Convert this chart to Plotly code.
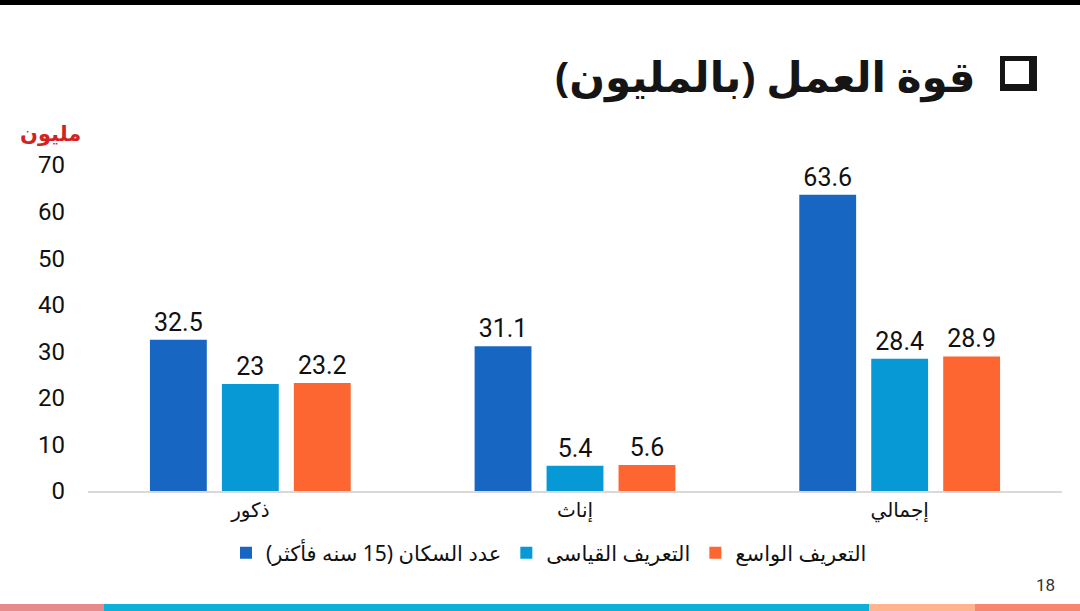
import plotly.graph_objects as go

# data
categories = ['ذكور', 'إناث', 'إجمالي']
population = [32.5, 31.1, 63.6]   # عدد السكان (15 سنه فأكثر)
standard = [23, 5.4, 28.4]        # التعريف القياسى
broad = [23.2, 5.6, 28.9]         # التعريف الواسع

series_names = ['عدد السكان (15 سنه فأكثر)', 'التعريف القياسى', 'التعريف الواسع']
series_values = [population, standard, broad]
colors = ['#1767c2', '#0799d5', '#fd6631']

W, H = 1080, 611
L, R, T, B = 88, 18, 165, 120
pw, ph = W - L - R, H - T - B

# helpers to place page decorations in paper coords
def px(x):
    return (x - L) / pw

def py(y):
    return (H - B - y) / ph

font = 'Noto Sans, DejaVu Sans, sans-serif'
numfont = 'Roboto, Noto Sans, sans-serif'

fig = go.Figure()
for name, vals, c in zip(series_names, series_values, colors):
    fig.add_trace(go.Bar(
        x=categories, y=vals, name=name,
        marker_color=c, marker_line_width=0,
        text=[f'{v:g}' for v in vals],
        textposition='outside',
        textfont=dict(size=25, color='#111111', family=numfont),
        cliponaxis=False,
    ))

fig.update_layout(
    width=W, height=H,
    margin=dict(l=L, r=R, t=T, b=B),
    paper_bgcolor='white', plot_bgcolor='white',
    barmode='group', bargap=0.335, bargroupgap=0.21,
    font=dict(family=font, color='#111111'),
    showlegend=True,
    legend=dict(orientation='h', x=px(549), xanchor='center', y=py(553), yanchor='middle',
                font=dict(size=21, color='#111111'), itemwidth=30,
                bgcolor='rgba(0,0,0,0)'),
)

fig.update_xaxes(
    showline=True, linecolor='#d9d9d9', linewidth=1.5,
    showgrid=False, ticks='',
    tickfont=dict(size=20, color='#111111'),
)
fig.update_yaxes(
    range=[0, 70], dtick=10, showgrid=False, zeroline=False,
    showline=False, ticks='',
    tickfont=dict(size=24, color='#111111', family=numfont),
    ticklabelstandoff=22,
)

# title and slide furniture
fig.add_annotation(text='<b>قوة العمل (بالمليون)</b>', xref='paper', yref='paper',
                   x=px(977), y=py(75), xanchor='right', yanchor='middle',
                   showarrow=False, font=dict(size=42, color='#151515', family=font))
fig.add_annotation(text='<b>مليون</b>', xref='paper', yref='paper',
                   x=px(50), y=py(133), xanchor='center', yanchor='middle',
                   showarrow=False, font=dict(size=21, color='#d32222', family=font))
fig.add_annotation(text='18', xref='paper', yref='paper',
                   x=px(1045), y=py(585), xanchor='center', yanchor='middle',
                   showarrow=False, font=dict(size=17, color='#333333', family=numfont))

# square bullet icon with shadow
fig.add_shape(type='rect', xref='paper', yref='paper',
              x0=px(1000), x1=px(1037), y0=py(91), y1=py(56),
              fillcolor='#151515', line_width=0)
fig.add_shape(type='rect', xref='paper', yref='paper',
              x0=px(1005), x1=px(1029), y0=py(84), y1=py(61),
              fillcolor='white', line_width=0)

# top black rule
fig.add_shape(type='rect', xref='paper', yref='paper',
              x0=px(0), x1=px(W), y0=py(5), y1=py(0),
              fillcolor='black', line_width=0, layer='above')

# bottom coloured stripe
stripes = [(0, 104, '#e8898c'), (104, 869, '#0cb0d8'), (869, 975, '#ffb48e'), (975, 1080, '#f6876e')]
for x0, x1, c in stripes:
    fig.add_shape(type='rect', xref='paper', yref='paper',
                  x0=px(x0), x1=px(x1), y0=py(611), y1=py(604),
                  fillcolor=c, line_width=0)

fig.write_html('out.html', config={'displayModeBar': False},
               post_script="document.body.style.margin='0';")
